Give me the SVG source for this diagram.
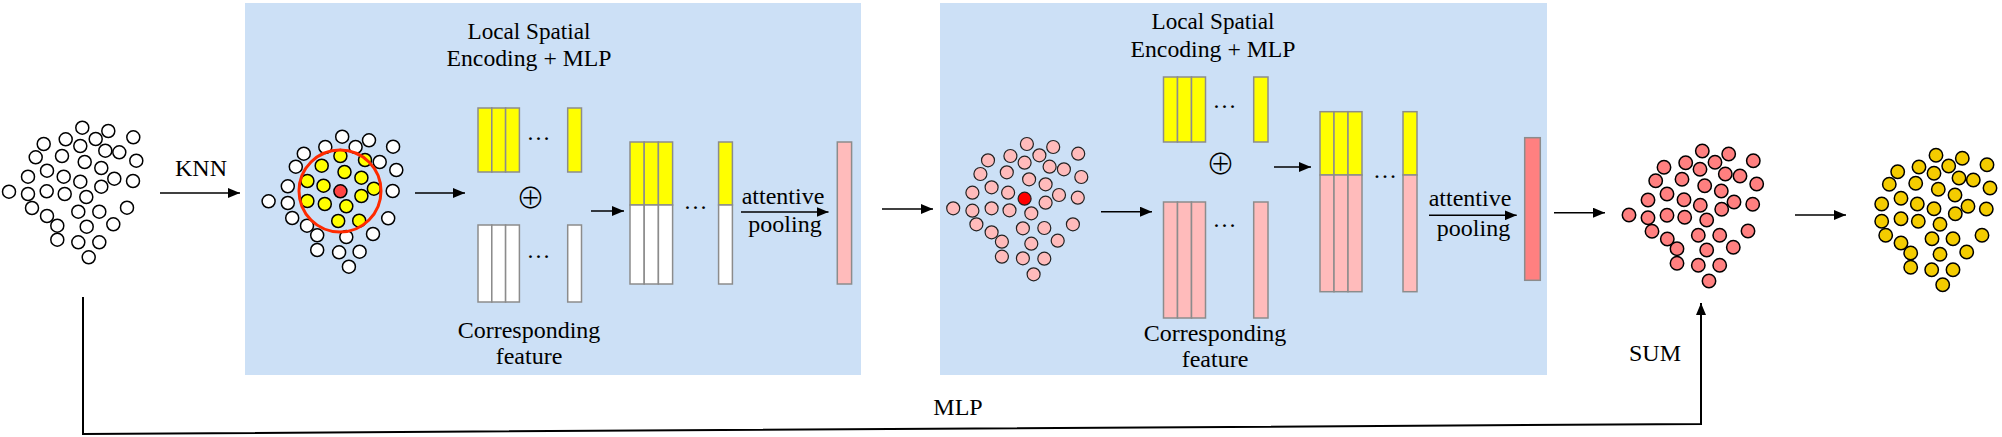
<svg xmlns="http://www.w3.org/2000/svg" width="2002" height="437" viewBox="0 0 2002 437">
<defs>
<marker id="ah" markerUnits="userSpaceOnUse" markerWidth="13" markerHeight="10" refX="12" refY="5" orient="auto">
<path d="M0,0 L12,5 L0,10 z" fill="#000"/>
</marker>
<style>
.t{font-family:"Liberation Serif","Times New Roman",serif;font-size:24px;fill:#000;text-anchor:middle}
.box{fill:#CCE0F6}
.c{stroke:#000;stroke-width:1.5}
.w{fill:#fff}
.y{fill:#FFFF00}
.r{fill:#FF4444}
.p{fill:#FFBBBB;stroke:#222;stroke-width:1.2}
.rd{fill:#FF0000;stroke:#222;stroke-width:1.2}
.d{fill:#FF8080}
.g{fill:#F4CC00}
.bar{stroke:#8C8C8C;stroke-width:1.5}
.ln{stroke:#000;stroke-width:1.5;fill:none}
.dots{font-family:"Liberation Serif",serif;font-size:24px;text-anchor:middle}
.op{font-family:"Noto Sans CJK SC",sans-serif;font-weight:300;font-size:29px;text-anchor:middle}
</style>
</defs>

<g id="block1">
<rect class="box" x="245" y="3" width="616" height="372"/>
<text class="t" x="529" y="39" textLength="123" lengthAdjust="spacingAndGlyphs">Local Spatial</text>
<text class="t" x="529" y="66" textLength="165" lengthAdjust="spacingAndGlyphs">Encoding + MLP</text>
<text class="t" x="529" y="338">Corresponding</text>
<text class="t" x="529" y="364">feature</text>
</g>

<g id="block2">
<rect class="box" x="940" y="3" width="607" height="372"/>
<text class="t" x="1213" y="29" textLength="123" lengthAdjust="spacingAndGlyphs">Local Spatial</text>
<text class="t" x="1213" y="57" textLength="165" lengthAdjust="spacingAndGlyphs">Encoding + MLP</text>
<text class="t" x="1215" y="341">Corresponding</text>
<text class="t" x="1215" y="367">feature</text>
</g>

<g id="input-cloud">
<g class="c w">
<circle cx="82.3" cy="127.7" r="6.5"/><circle cx="108.3" cy="131" r="6.5"/><circle cx="133.3" cy="137.3" r="6.5"/>
<circle cx="65.7" cy="139.3" r="6.5"/><circle cx="95.7" cy="139" r="6.5"/><circle cx="43.7" cy="144" r="6.5"/>
<circle cx="80.3" cy="146" r="6.5"/><circle cx="105.3" cy="150.7" r="6.5"/><circle cx="119.3" cy="152.3" r="6.5"/>
<circle cx="35.7" cy="157.3" r="6.5"/><circle cx="62" cy="156" r="6.5"/><circle cx="136.3" cy="160.7" r="6.5"/>
<circle cx="84.7" cy="162" r="6.5"/><circle cx="101.3" cy="168" r="6.5"/><circle cx="47" cy="170.7" r="6.5"/>
<circle cx="28" cy="176.7" r="6.5"/><circle cx="63.7" cy="176.7" r="6.5"/><circle cx="114.3" cy="178.7" r="6.5"/>
<circle cx="133" cy="181" r="6.5"/><circle cx="80.3" cy="181.7" r="6.5"/><circle cx="101.3" cy="186.7" r="6.5"/>
<circle cx="9" cy="191.7" r="6.5"/><circle cx="28" cy="194" r="6.5"/><circle cx="46.7" cy="191.3" r="6.5"/>
<circle cx="64.7" cy="194" r="6.5"/><circle cx="86.3" cy="197" r="6.5"/><circle cx="127" cy="207.7" r="6.5"/>
<circle cx="32" cy="208" r="6.5"/><circle cx="78.3" cy="211.7" r="6.5"/><circle cx="99.3" cy="211.7" r="6.5"/>
<circle cx="47" cy="216" r="6.5"/><circle cx="57.3" cy="225.7" r="6.5"/><circle cx="113.3" cy="224.3" r="6.5"/>
<circle cx="86.7" cy="226.7" r="6.5"/><circle cx="57.3" cy="239.7" r="6.5"/><circle cx="78.3" cy="242.3" r="6.5"/>
<circle cx="99.3" cy="242.3" r="6.5"/><circle cx="88.7" cy="257.3" r="6.5"/>
</g>
</g>

<g id="knn-cloud">
<g class="c w">
<circle cx="342.2" cy="136.7" r="6.5"/><circle cx="369" cy="140.3" r="6.5"/><circle cx="393.1" cy="146.7" r="6.5"/>
<circle cx="325.3" cy="147" r="6.5"/><circle cx="355.6" cy="147" r="6.5"/><circle cx="303.8" cy="153.7" r="6.5"/>
<circle cx="379.7" cy="162" r="6.5"/><circle cx="295.8" cy="166.7" r="6.5"/><circle cx="396.3" cy="170" r="6.5"/>
<circle cx="287.8" cy="186.3" r="6.5"/><circle cx="392.7" cy="191" r="6.5"/><circle cx="268.6" cy="201.3" r="6.5"/>
<circle cx="287.8" cy="203" r="6.5"/><circle cx="292.2" cy="218" r="6.5"/><circle cx="388.2" cy="218.3" r="6.5"/>
<circle cx="307" cy="225.7" r="6.5"/><circle cx="317.2" cy="235.3" r="6.5"/><circle cx="346.3" cy="237" r="6.5"/>
<circle cx="373" cy="234" r="6.5"/><circle cx="317.2" cy="250" r="6.5"/><circle cx="339.1" cy="252.3" r="6.5"/>
<circle cx="359.6" cy="251.7" r="6.5"/><circle cx="348.9" cy="266.7" r="6.5"/>
</g>
<g class="c y">
<circle cx="340.4" cy="156" r="6.5"/><circle cx="365" cy="160" r="6.5"/><circle cx="321.7" cy="165.7" r="6.5"/>
<circle cx="344.5" cy="172" r="6.5"/><circle cx="361.4" cy="177.7" r="6.5"/><circle cx="307.4" cy="181" r="6.5"/>
<circle cx="323.5" cy="185.7" r="6.5"/><circle cx="373.9" cy="188.7" r="6.5"/><circle cx="307.4" cy="201" r="6.5"/>
<circle cx="324.8" cy="204" r="6.5"/><circle cx="361.4" cy="196" r="6.5"/><circle cx="346.3" cy="206.3" r="6.5"/>
<circle cx="338.2" cy="221" r="6.5"/><circle cx="359.2" cy="220.7" r="6.5"/>
</g>
<circle class="c r" cx="340.4" cy="191.3" r="6.5"/>
<circle cx="340" cy="191" r="41" fill="none" stroke="#FF2A00" stroke-width="3"/>
</g>

<g id="features1">
<rect class="bar y" x="478" y="108" width="13.8" height="64"/>
<rect class="bar y" x="491.8" y="108" width="13.8" height="64"/>
<rect class="bar y" x="505.6" y="108" width="13.8" height="64"/>
<rect class="bar y" x="567.7" y="108" width="13.8" height="64"/>
<text class="dots" x="538.5" y="140">…</text>
<text class="op" x="530.5" y="208.5">⊕</text>
<rect class="bar w" x="478" y="225" width="13.8" height="77"/>
<rect class="bar w" x="491.8" y="225" width="13.8" height="77"/>
<rect class="bar w" x="505.6" y="225" width="13.8" height="77"/>
<rect class="bar w" x="567.7" y="225" width="13.8" height="77"/>
<text class="dots" x="538.5" y="258">…</text>
</g>

<g id="concat1">
<rect class="bar y" x="630" y="142" width="14.2" height="63"/>
<rect class="bar y" x="644.2" y="142" width="14.2" height="63"/>
<rect class="bar y" x="658.4" y="142" width="14.2" height="63"/>
<rect class="bar y" x="718.6" y="142" width="13.8" height="63"/>
<rect class="bar w" x="630" y="205" width="14.2" height="79"/>
<rect class="bar w" x="644.2" y="205" width="14.2" height="79"/>
<rect class="bar w" x="658.4" y="205" width="14.2" height="79"/>
<rect class="bar w" x="718.6" y="205" width="13.8" height="79"/>
<text class="dots" x="695.5" y="209">…</text>
<text class="t" x="783" y="204">attentive</text>
<text class="t" x="785" y="232">pooling</text>
</g>

<g id="pooled1">
<rect class="bar" fill="#FFBBBB" x="837.3" y="142" width="14.3" height="142"/>
</g>

<g id="cloud2">
<g class="p">
<circle cx="1026.9" cy="144" r="6.5"/><circle cx="1053.2" cy="147" r="6.5"/><circle cx="1078.2" cy="153.7" r="6.5"/>
<circle cx="1010.4" cy="156" r="6.5"/><circle cx="1039.4" cy="155.3" r="6.5"/><circle cx="988" cy="160.3" r="6.5"/>
<circle cx="1024.6" cy="162.7" r="6.5"/><circle cx="1049.6" cy="166.7" r="6.5"/><circle cx="1063.9" cy="169.3" r="6.5"/>
<circle cx="980.4" cy="174" r="6.5"/><circle cx="1006.8" cy="172.3" r="6.5"/><circle cx="1081.3" cy="177" r="6.5"/>
<circle cx="1029.1" cy="179.3" r="6.5"/><circle cx="1045.6" cy="184.3" r="6.5"/><circle cx="991.6" cy="187.3" r="6.5"/>
<circle cx="972.4" cy="192.7" r="6.5"/><circle cx="1008.1" cy="192.7" r="6.5"/><circle cx="1059" cy="195" r="6.5"/>
<circle cx="1077.8" cy="197.7" r="6.5"/><circle cx="1045.6" cy="202.7" r="6.5"/><circle cx="953.2" cy="208.3" r="6.5"/>
<circle cx="972.4" cy="210.7" r="6.5"/><circle cx="991.6" cy="208.3" r="6.5"/><circle cx="1009.5" cy="210.3" r="6.5"/>
<circle cx="1031.3" cy="213.3" r="6.5"/><circle cx="1072.9" cy="224.3" r="6.5"/><circle cx="976.4" cy="224.3" r="6.5"/>
<circle cx="1022.9" cy="228.3" r="6.5"/><circle cx="1044.3" cy="228" r="6.5"/><circle cx="991.6" cy="232.3" r="6.5"/>
<circle cx="1001.9" cy="241.7" r="6.5"/><circle cx="1057.7" cy="240.7" r="6.5"/><circle cx="1031.3" cy="243.7" r="6.5"/>
<circle cx="1001.9" cy="256.7" r="6.5"/><circle cx="1022.9" cy="258.3" r="6.5"/><circle cx="1044.3" cy="258.7" r="6.5"/>
<circle cx="1033.6" cy="274.3" r="6.5"/>
</g>
<circle class="rd" cx="1024.6" cy="198.7" r="6.5"/>
</g>

<g id="features2">
<rect class="bar y" x="1163.5" y="77" width="14" height="65"/>
<rect class="bar y" x="1177.5" y="77" width="14" height="65"/>
<rect class="bar y" x="1191.5" y="77" width="14" height="65"/>
<rect class="bar y" x="1253.7" y="77" width="14.3" height="65"/>
<text class="dots" x="1224.6" y="108">…</text>
<text class="op" x="1220.5" y="174.5">⊕</text>
<rect class="bar" fill="#FFBBBB" x="1163.5" y="202" width="14" height="116"/>
<rect class="bar" fill="#FFBBBB" x="1177.5" y="202" width="14" height="116"/>
<rect class="bar" fill="#FFBBBB" x="1191.5" y="202" width="14" height="116"/>
<rect class="bar" fill="#FFBBBB" x="1253.7" y="202" width="14.3" height="116"/>
<text class="dots" x="1224.6" y="227">…</text>
</g>

<g id="concat2">
<rect class="bar y" x="1320" y="111.7" width="14" height="63.3"/>
<rect class="bar y" x="1334" y="111.7" width="14" height="63.3"/>
<rect class="bar y" x="1348" y="111.7" width="14" height="63.3"/>
<rect class="bar y" x="1403" y="111.7" width="14" height="63.3"/>
<rect class="bar" fill="#FFBBBB" x="1320" y="175" width="14" height="116.7"/>
<rect class="bar" fill="#FFBBBB" x="1334" y="175" width="14" height="116.7"/>
<rect class="bar" fill="#FFBBBB" x="1348" y="175" width="14" height="116.7"/>
<rect class="bar" fill="#FFBBBB" x="1403" y="175" width="14" height="116.7"/>
<text class="dots" x="1385" y="178">…</text>
<text class="t" x="1470" y="206">attentive</text>
<text class="t" x="1473.5" y="236">pooling</text>
</g>

<g id="pooled2">
<rect class="bar d" x="1524.7" y="137.7" width="15.6" height="142.6"/>
</g>

<g id="sum-cloud">
<g class="c d">
<circle cx="1702.3" cy="151" r="6.7"/><circle cx="1728.7" cy="154" r="6.7"/><circle cx="1753.3" cy="160.7" r="6.7"/>
<circle cx="1664" cy="167.3" r="6.7"/><circle cx="1685.7" cy="162.7" r="6.7"/><circle cx="1700" cy="169.3" r="6.7"/>
<circle cx="1715" cy="162.3" r="6.7"/><circle cx="1725.3" cy="174" r="6.7"/><circle cx="1740" cy="176" r="6.7"/>
<circle cx="1655.7" cy="180.7" r="6.7"/><circle cx="1682" cy="179.3" r="6.7"/><circle cx="1756.7" cy="184" r="6.7"/>
<circle cx="1704.7" cy="185.7" r="6.7"/><circle cx="1721.3" cy="191" r="6.7"/><circle cx="1648" cy="200" r="6.7"/>
<circle cx="1667" cy="194" r="6.7"/><circle cx="1684" cy="199.7" r="6.7"/><circle cx="1700.3" cy="205.3" r="6.7"/>
<circle cx="1734" cy="202" r="6.7"/><circle cx="1752.7" cy="204.3" r="6.7"/><circle cx="1721.7" cy="209.3" r="6.7"/>
<circle cx="1629" cy="215" r="6.7"/><circle cx="1648" cy="217.7" r="6.7"/><circle cx="1667" cy="215.3" r="6.7"/>
<circle cx="1684.7" cy="217.3" r="6.7"/><circle cx="1706.7" cy="220" r="6.7"/><circle cx="1748" cy="231" r="6.7"/>
<circle cx="1652" cy="231.3" r="6.7"/><circle cx="1667.3" cy="239" r="6.7"/><circle cx="1698.3" cy="235.3" r="6.7"/>
<circle cx="1719.7" cy="235.3" r="6.7"/><circle cx="1677" cy="248.7" r="6.7"/><circle cx="1706.7" cy="250" r="6.7"/>
<circle cx="1733.3" cy="247.3" r="6.7"/><circle cx="1677" cy="263.3" r="6.7"/><circle cx="1698.3" cy="265.3" r="6.7"/>
<circle cx="1719.7" cy="265.3" r="6.7"/><circle cx="1709" cy="281" r="6.7"/>
</g>
</g>

<g id="output-cloud">
<g class="c g">
<circle cx="1936" cy="155.3" r="6.7"/><circle cx="1962.3" cy="158.3" r="6.7"/><circle cx="1987" cy="164.7" r="6.7"/>
<circle cx="1897.7" cy="171.7" r="6.7"/><circle cx="1919" cy="167" r="6.7"/><circle cx="1934" cy="173.3" r="6.7"/>
<circle cx="1948.7" cy="166" r="6.7"/><circle cx="1959" cy="178" r="6.7"/><circle cx="1973.3" cy="180" r="6.7"/>
<circle cx="1889.3" cy="184.3" r="6.7"/><circle cx="1915.7" cy="183.3" r="6.7"/><circle cx="1990" cy="188" r="6.7"/>
<circle cx="1938.3" cy="189.3" r="6.7"/><circle cx="1955" cy="195" r="6.7"/><circle cx="1881.7" cy="204" r="6.7"/>
<circle cx="1901" cy="198.3" r="6.7"/><circle cx="1917.3" cy="204" r="6.7"/><circle cx="1934" cy="208.7" r="6.7"/>
<circle cx="1968" cy="206.3" r="6.7"/><circle cx="1986.3" cy="209" r="6.7"/><circle cx="1955.3" cy="213.7" r="6.7"/>
<circle cx="1881.7" cy="221.3" r="6.7"/><circle cx="1901" cy="218.7" r="6.7"/><circle cx="1918.3" cy="221.3" r="6.7"/>
<circle cx="1940" cy="224.3" r="6.7"/><circle cx="1982" cy="235.3" r="6.7"/><circle cx="1885.7" cy="235.3" r="6.7"/>
<circle cx="1901" cy="243" r="6.7"/><circle cx="1932" cy="238.7" r="6.7"/><circle cx="1953" cy="238.7" r="6.7"/>
<circle cx="1910.7" cy="253" r="6.7"/><circle cx="1940" cy="254.3" r="6.7"/><circle cx="1966.7" cy="252" r="6.7"/>
<circle cx="1910.7" cy="267.3" r="6.7"/><circle cx="1931.7" cy="269.7" r="6.7"/><circle cx="1953" cy="269.7" r="6.7"/>
<circle cx="1942.7" cy="284.7" r="6.7"/>
</g>
</g>

<g id="connectors">
<line class="ln" x1="160" y1="193" x2="240" y2="193" marker-end="url(#ah)"/>
<text class="t" x="201" y="176">KNN</text>
<line class="ln" x1="415" y1="193" x2="465" y2="193" marker-end="url(#ah)"/>
<line class="ln" x1="591" y1="211" x2="624" y2="211" marker-end="url(#ah)"/>
<line class="ln" x1="741" y1="212" x2="828.5" y2="212" marker-end="url(#ah)"/>
<line class="ln" x1="882" y1="209" x2="933" y2="209" marker-end="url(#ah)"/>
<line class="ln" x1="1101" y1="211.7" x2="1152" y2="211.7" marker-end="url(#ah)"/>
<line class="ln" x1="1274" y1="167" x2="1311" y2="167" marker-end="url(#ah)"/>
<line class="ln" x1="1429" y1="215.3" x2="1516.7" y2="215.3" marker-end="url(#ah)"/>
<line class="ln" x1="1554" y1="212.7" x2="1605" y2="212.7" marker-end="url(#ah)"/>
<line class="ln" x1="1795" y1="215" x2="1846" y2="215" marker-end="url(#ah)"/>
<polyline points="83,297 83,434 1701,424 1701,303" fill="none" stroke="#000" stroke-width="2" marker-end="url(#ah)"/>
<text class="t" x="958" y="415">MLP</text>
<text class="t" x="1655" y="361">SUM</text>
</g>
</svg>
